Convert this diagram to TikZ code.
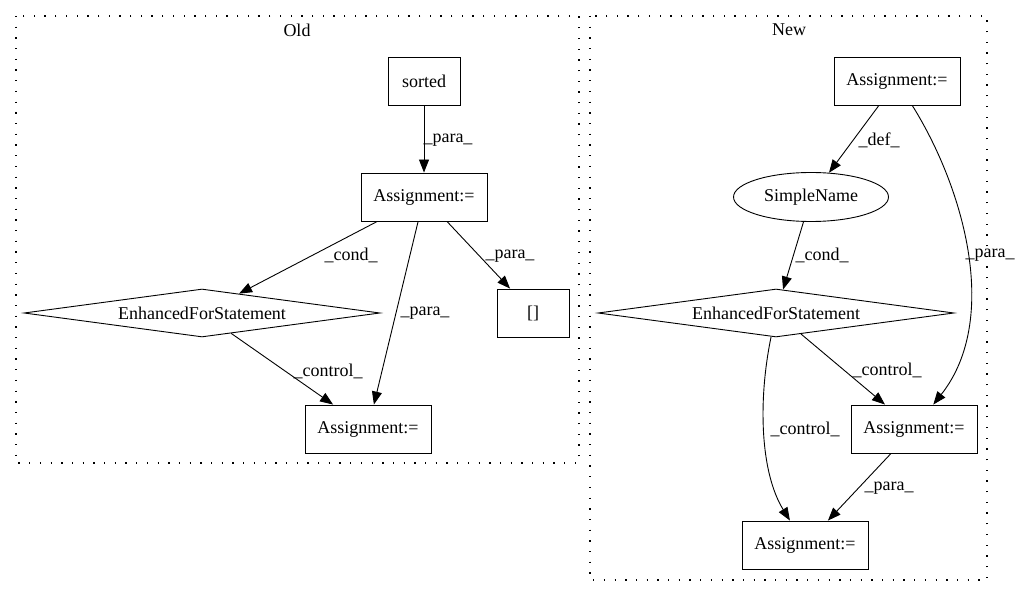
\documentclass[tikz,border=0pt]{standalone}
\usepackage{fontspec}
\setmainfont{Liberation Serif}
\usetikzlibrary{arrows.meta,shapes.geometric}

\begin{document}
\begin{tikzpicture}[x=1bp,y=-1bp,
	  font=\fontsize{18bp}{21bp}\selectfont,
	  stmt/.style={draw,line width=0.9bp,minimum width=126bp,minimum height=48bp,inner sep=0pt},
	  callbox/.style={stmt,minimum width=72bp},
	  loopdia/.style={draw,diamond,aspect=7.4,line width=0.9bp,inner sep=0pt,minimum width=356bp,minimum height=48bp},
	  namebox/.style={draw,ellipse,line width=0.9bp,inner sep=0pt,minimum width=155bp,minimum height=49bp},
	  cluster/.style={line width=1.3bp,dash pattern=on 1.3bp off 9.4bp},
	  edge/.style={-{Triangle[length=13bp,width=10bp]},line width=0.9bp},
	  lbl/.style={inner sep=0pt}]
	  \useasboundingbox (0,0) rectangle (1020,596);

	  % clusters
	  \draw[cluster] (16,16) rectangle (579,463);
	  \draw[cluster] (590,16) rectangle (987,580);
	  \node[lbl] (oldTitle) at (297,30) {Old};
	  \node[lbl] (newTitle) at (789,30) {New};

	  % old graph
	  \node[callbox] (oSorted) at (424,81) {sorted};
	  \node[stmt] (oAssignTop) at (424,197) {Assignment:=};
	  \node[loopdia] (oFor) at (202,313) {EnhancedForStatement};
	  \node[callbox] (oIndex) at (533,313) {[]};
	  \node[stmt] (oAssignBot) at (368,429) {Assignment:=};

	  \draw[edge] (oSorted) -- (oAssignTop);
	  \draw[edge] (oAssignTop) -- (oFor);
	  \draw[edge] (oAssignTop) -- (oAssignBot);
	  \draw[edge] (oAssignTop) -- (oIndex);
	  \draw[edge] (oFor) -- (oAssignBot);

	  \node[lbl] (oParaA) at (448,140) {\_para\_};
	  \node[lbl] (oCond) at (351,255) {\_cond\_};
	  \node[lbl] (oParaB) at (425,313) {\_para\_};
	  \node[lbl] (oParaC) at (510,256) {\_para\_};
	  \node[lbl] (oCtrl) at (328,371) {\_control\_};

	  % new graph
	  \node[stmt] (nAssignTop) at (897,81) {Assignment:=};
	  \node[namebox] (nName) at (811,197) {SimpleName};
	  \node[loopdia] (nFor) at (776,313) {EnhancedForStatement};
	  \node[stmt] (nAssignMid) at (914,429) {Assignment:=};
	  \node[stmt] (nAssignBot) at (805,545) {Assignment:=};

	  \draw[edge] (nAssignTop) -- (nName);
	  \draw[edge] (nAssignTop) .. controls (965,190) and (1000,320) .. (nAssignMid);
	  \draw[edge] (nName) -- (nFor);
	  \draw[edge] (nFor) -- (nAssignMid);
	  \draw[edge] (nFor) .. controls (758,400) and (760,472) .. (nAssignBot);
	  \draw[edge] (nAssignMid) -- (nAssignBot);

	  \node[lbl] (nDef) at (879,140) {\_def\_};
	  \node[lbl] (nCond) at (822,255) {\_cond\_};
	  \node[lbl] (nParaA) at (990,255) {\_para\_};
	  \node[lbl] (nCtrlA) at (887,370) {\_control\_};
	  \node[lbl] (nCtrlB) at (805,429) {\_control\_};
	  \node[lbl] (nParaB) at (889,488) {\_para\_};
	\end{tikzpicture}
\end{document}
